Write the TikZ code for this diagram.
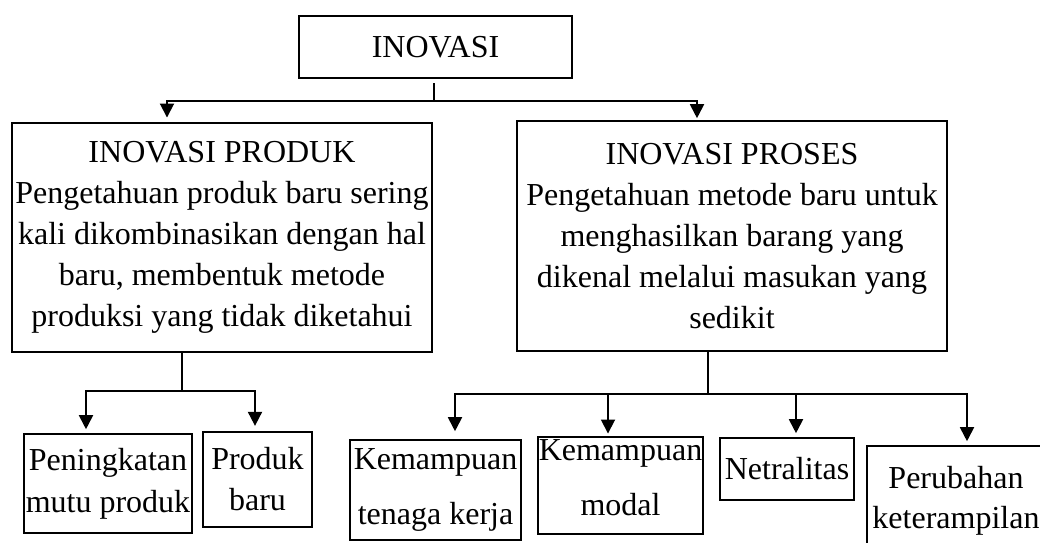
\documentclass[tikz,border=0pt]{standalone}
\usepackage{fontspec}
\setmainfont{Liberation Serif}
\usetikzlibrary{arrows.meta,calc}

\begin{document}
\begin{tikzpicture}[x=0.75pt,y=-0.75pt,line width=1.4pt,
    box/.style={draw,line width=1.2pt,inner sep=0pt,align=center,
      font=\fontsize{24}{30.75}\selectfont},
    arr/.style={-{Triangle[length=10.5pt,width=10.5pt]}}]
  \useasboundingbox (0,0) rectangle (1040,543);
  \node[box,minimum width=204.75pt,minimum height=46.5pt] (I) at (435.5,47) {INOVASI};
  \node[box,minimum width=315pt,minimum height=171.75pt] (P) at (222,237.5)
    {INOVASI PRODUK\\Pengetahuan produk baru sering\\kali dikombinasikan dengan hal\\baru, membentuk metode\\produksi yang tidak diketahui};
  \node[box,minimum width=322.5pt,minimum height=172.5pt] (R) at (732,236)
    {INOVASI PROSES\\Pengetahuan metode baru untuk\\menghasilkan barang yang\\dikenal melalui masukan yang\\sedikit};
  \node[box,minimum width=126pt,minimum height=74.25pt,font=\fontsize{24}{31.5}\selectfont] (pm) at (108,483.5) {Peningkatan\\mutu produk};
  \node[box,minimum width=81.75pt,minimum height=71.25pt] (pb) at (257.5,479.5) {Produk\\baru};
  \node[box,minimum width=128.25pt,minimum height=75pt,font=\fontsize{24}{41.25}\selectfont] (kt) at (435.5,490) {Kemampuan\\tenaga kerja};
  \node[box,minimum width=123.75pt,minimum height=72.75pt,font=\fontsize{24}{41.25}\selectfont] (km) at (620.5,485.5) {Kemampuan\\modal\strut};
  \node[box,minimum width=100.5pt,minimum height=46.5pt] (nt) at (787,469) {Netralitas};
  \node[box,minimum width=133.5pt,minimum height=82.5pt,font=\fontsize{24}{30}\selectfont] (pk) at (956,501) {Perubahan\\keterampilan};
  \coordinate (j1) at (434,101);
  \coordinate (lb) at ($(P.south)+(-40,38)$);
  \coordinate (rb) at ($(R.south)+(-24,42)$);
  \draw[shorten <=3.5pt] (j1 |- I.south) -- (j1);
  \draw[arr,shorten >=3.5pt] (j1) -| ($(P.north)+(-55,0)$);
  \draw[arr,shorten >=1.5pt] (j1) -| ($(R.north)+(-35,0)$);
  \draw (P.south -| lb) -- (lb);
  \draw[arr,shorten >=3pt] (lb) -| ($(pm.north)+(-22,0)$);
  \draw[arr,shorten >=4pt] (lb) -| ($(pb.north)+(-2.5,0)$);
  \draw (R.south -| rb) -- (rb);
  \draw[arr,shorten >=6pt] (rb) -| ($(kt.north)+(19.5,0)$);
  \draw[arr,shorten >=2pt] (rb) -| ($(km.north)+(-12.5,0)$);
  \draw[arr,shorten >=3pt] (rb) -| ($(nt.north)+(9,0)$);
  \draw[arr,shorten >=3pt] (rb) -| ($(pk.north)+(11,0)$);
\end{tikzpicture}
\end{document}
